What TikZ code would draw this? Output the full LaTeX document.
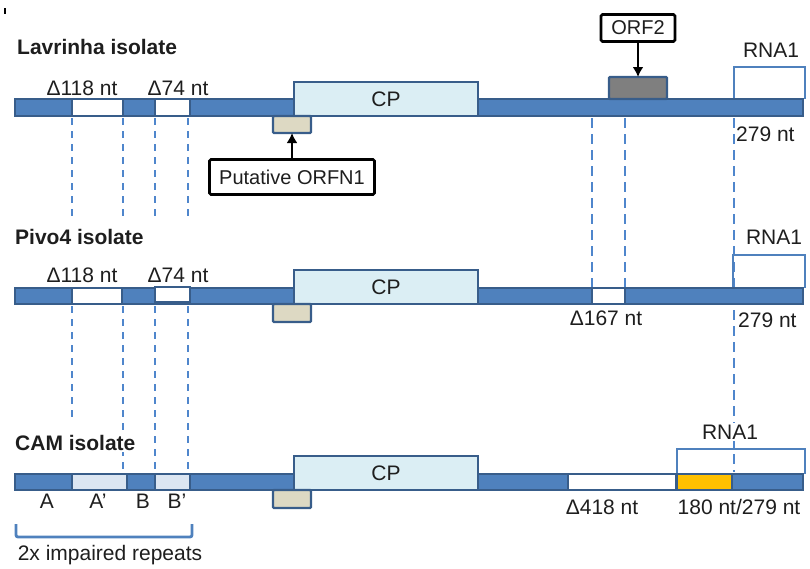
\documentclass[tikz,border=0pt]{standalone}
\usepackage{fontspec}
\setmainfont{Liberation Sans}
\usetikzlibrary{fit,arrows.meta}
\definecolor{barblue}{HTML}{4F81BD}
\definecolor{edgeblue}{HTML}{385D8A}
\definecolor{cpfill}{HTML}{DBEEF4}
\definecolor{orfnfill}{HTML}{DDD9C3}
\definecolor{orftwofill}{HTML}{7F7F7F}
\definecolor{repfill}{HTML}{DCE6F2}
\definecolor{yel}{HTML}{FFC000}
\definecolor{dashblue}{HTML}{4F86CC}
\definecolor{ink}{HTML}{1E1E1E}
\begin{document}
\begin{tikzpicture}[x=1pt,y=-1pt,
  seg/.style={draw=edgeblue, line width=2.3pt, inner sep=0pt, outer sep=0pt},
  bar/.style={seg, fill=barblue},
  gap/.style={seg, fill=white},
  rep/.style={seg, fill=repfill},
  cpbox/.style={seg, fill=cpfill, label={[txt]center:CP}},
  orfa/.style={seg, fill=orfnfill, rounded corners=1pt},
  orfb/.style={seg, fill=orftwofill, rounded corners=1pt},
  yelbox/.style={seg, fill=yel},
  txt/.style={font=\fontsize{21}{25}\selectfont, text=ink, inner sep=0pt},
  ttl/.style={font=\fontsize{21}{25}\selectfont\bfseries, text=ink, anchor=west, inner sep=1pt, fill=white},
  lbl/.style={draw=black, line width=2.6pt, fill=white, text=ink, font=\fontsize{20}{24}\selectfont, rounded corners=1.5pt, inner sep=0pt},
  arr/.style={line width=2.8pt, -{Latex[length=10pt,width=11pt]}},
  dl/.style={draw=dashblue, line width=1.8pt, dash pattern=on 7pt off 6pt},
  dr/.style={draw=dashblue, line width=2.8pt, dash pattern=on 10pt off 6pt},
  brk/.style={draw=barblue, line width=2.4pt}
]
\useasboundingbox (0,0) rectangle (810,568);
\draw[line width=1.2pt] (5,8) -- (5,14);

% ---------- coordinates for the long guide
\coordinate (lr) at (734,99);

% ---------- dashed guide lines (behind)
\coordinate (g1) at (72,0);
\coordinate (g2) at (123,0);
\coordinate (g3) at (155,0);
\coordinate (g4) at (188,0);
\coordinate (g5) at (592,0);
\coordinate (g6) at (625,0);
\draw[dl] (g1 |- 0,118) -- (g1 |- 0,218);
\draw[dl] (g2 |- 0,118) -- (g2 |- 0,218);
\draw[dl] (g3 |- 0,118) -- (g3 |- 0,218);
\draw[dl] (g4 |- 0,118) -- (g4 |- 0,218);
\draw[dl] (g1 |- 0,306) -- (g1 |- 0,423);
\draw[dl] (g2 |- 0,306) -- (g2 |- 0,472);
\draw[dl] (g3 |- 0,306) -- (g3 |- 0,472);
\draw[dl] (g4 |- 0,306) -- (g4 |- 0,472);
\draw[dr] (g5 |- 0,118) -- (g5 |- 0,288);
\draw[dr] (g6 |- 0,118) -- (g6 |- 0,288);
\draw[dr] (lr |- 0,118) -- (lr |- 0,472);

% ---------- Lavrinha
\node[ttl] (tl) at (16,47) {Lavrinha isolate};
\draw[brk] (lr) -- (734,67) -- (805,67) -- (805,99);
\node[bar, fit={(15,99)(803,116)}] (lbar) {};
\node[gap, fit={(72,99)(123,116)}] (lg1) {};
\node[gap, fit={(155,99)(190,116)}] (lg2) {};
\node[cpbox, fit={(294,82)(478,116)}] (lcp) {};
\node[orfa, fit={(273,116)(311,133)}] (lorfn) {};
\node[orfb, fit={(609,77)(667,99)}] (lorf2) {};
\node[txt] (ld1) at (82,88) {Δ118 nt};
\node[txt] (ld2) at (178,88) {Δ74 nt};
\node[txt] (lrna) at (771,50) {RNA1};
\node[txt, anchor=west] (l279) at (736,134) {279 nt};
\node[lbl, minimum width=165pt, minimum height=35pt] (porfn) at (292,177) {Putative ORFN1};
\draw[arr] (porfn.north) -- (porfn.north |- lorfn.south);
\node[lbl, minimum width=74pt, minimum height=27pt] (porf2) at (638,28) {ORF2};
\draw[arr] (porf2.south) -- (porf2.south |- lorf2.north);

% ---------- Pivo4
\node[ttl] (tp) at (14,237) {Pivo4 isolate};
\draw[brk] (733,288) -- (733,255) -- (805,255) -- (805,288);
\node[bar, fit={(15,288)(803,304)}] (pbar) {};
\node[gap, fit={(72,288)(122,304)}] (pg1) {};
\node[gap, fit={(155,287)(190,302)}] (pg2) {};
\node[gap, fit={(592,288)(625,304)}] (pg3) {};
\node[cpbox, fit={(294,270)(478,304)}] (pcp) {};
\node[orfa, fit={(273,304)(311,322)}] (porfnb) {};
\node[txt] (pd1) at (82,275) {Δ118 nt};
\node[txt] (pd2) at (178,275) {Δ74 nt};
\node[txt] (pd3) at (606,318) {Δ167 nt};
\node[txt] (prna) at (774,237) {RNA1};
\node[txt, anchor=west] (p279) at (738,320) {279 nt};

% ---------- CAM
\node[ttl] (tc) at (14,443) {CAM isolate};
\node[txt, fill=white, inner sep=2pt] (crna) at (730,432) {RNA1};
\draw[brk] (677,474) -- (677,449) -- (805,449) -- (805,474);
\node[bar, fit={(15,474)(803,490)}] (cbar) {};
\node[rep, fit={(72,474)(127,490)}] (cg1) {};
\node[rep, fit={(155,474)(190,490)}] (cg2) {};
\node[gap, fit={(568,474)(676,490)}] (cg3) {};
\node[yelbox, fit={(677,474)(732,490)}] (cy) {};
\node[cpbox, fit={(294,456)(478,490)}] (ccp) {};
\node[orfa, fit={(273,490)(311,508)}] (corfn) {};
\node[txt] (ca) at (47,501) {A};
\node[txt] (ca2) at (98,501) {A’};
\node[txt] (cb) at (143,501) {B};
\node[txt] (cb2) at (177,501) {B’};
\node[txt] (cd) at (602,507) {Δ418 nt};
\node[txt] (c180) at (739,507) {180 nt/279 nt};
\draw[brk, line width=2.8pt, rounded corners=2pt] (16,524) -- (16,537) -- (192,537) -- (192,524);
\node[txt] (crep) at (110,555) {2x impaired repeats};
\end{tikzpicture}
\end{document}
